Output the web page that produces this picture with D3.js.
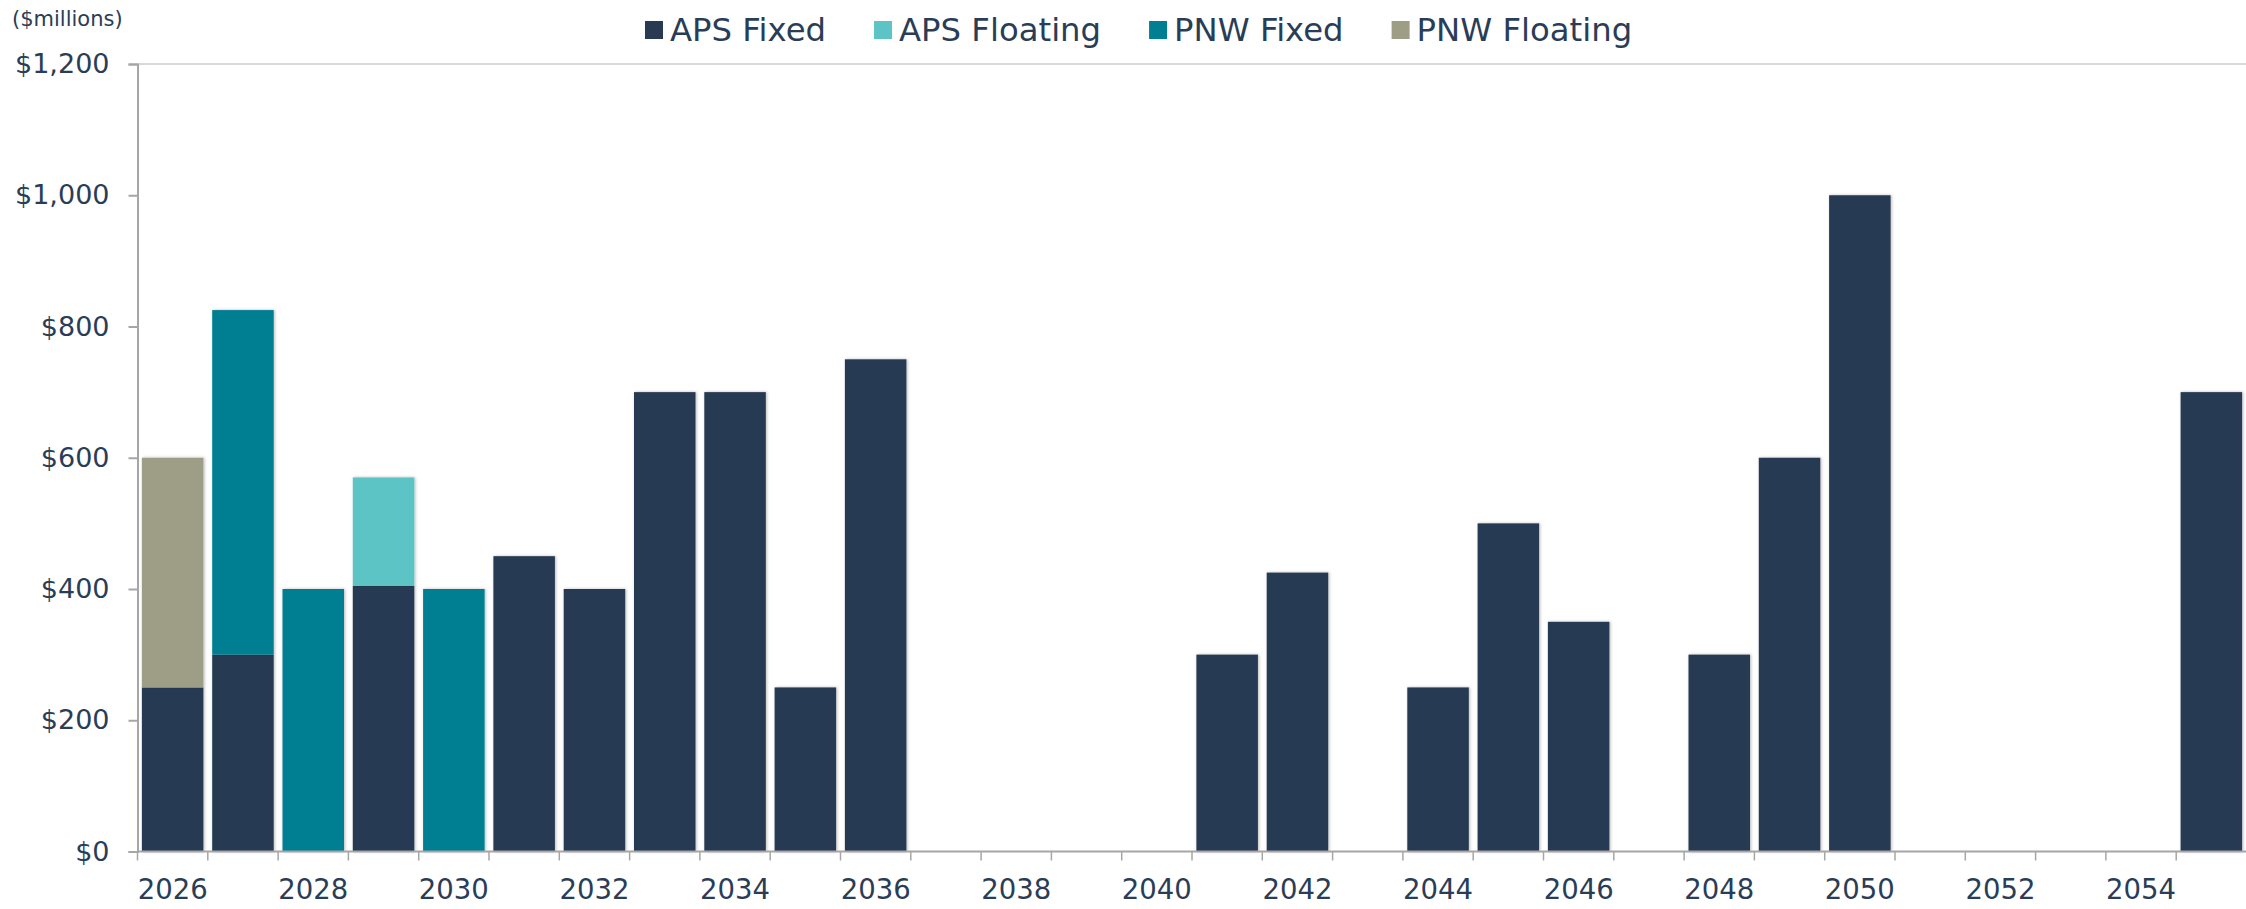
<!DOCTYPE html>
<html>
<head>
<meta charset="utf-8">
<script src="https://cdn.jsdelivr.net/npm/d3@7"></script>
<style>
  html, body { margin: 0; padding: 0; background: #ffffff; }
  svg { display: block; font-family: "DejaVu Sans", Verdana, sans-serif; }
</style>
</head>
<body>
<svg id="chart" width="2246" height="909"></svg>
<script>
// ---- data ----
const years = d3.range(2026, 2056).map(String);
const apsFixed    = [250, 300,   0, 405,   0, 450, 400, 700, 700, 250, 750, 0, 0, 0, 0, 300, 425, 0, 250, 500, 350, 0, 300, 600, 1000, 0, 0, 0, 0, 700];
const apsFloating = [  0,   0,   0, 165,   0,   0,   0,   0,   0,   0,   0, 0, 0, 0, 0,   0,   0, 0,   0,   0,   0, 0,   0,   0,    0, 0, 0, 0, 0,   0];
const pnwFixed    = [  0, 525, 400,   0, 400,   0,   0,   0,   0,   0,   0, 0, 0, 0, 0,   0,   0, 0,   0,   0,   0, 0,   0,   0,    0, 0, 0, 0, 0,   0];
const pnwFloating = [350,   0,   0,   0,   0,   0,   0,   0,   0,   0,   0, 0, 0, 0, 0,   0,   0, 0,   0,   0,   0, 0,   0,   0,    0, 0, 0, 0, 0,   0];
const seriesNames = ["APS Fixed", "APS Floating", "PNW Fixed", "PNW Floating"];
const seriesColors = ["#283b52", "#5cc4c4", "#007f93", "#9e9d85"];
const yTicks = [0, 200, 400, 600, 800, 1000, 1200];
const xLabelYears = years.filter((y, i) => i % 2 === 0);

// ---- table for stack ----
const seriesArrays = [apsFixed, apsFloating, pnwFixed, pnwFloating];
const table = years.map((y, i) => {
  const row = { year: y };
  seriesNames.forEach((s, k) => row[s] = seriesArrays[k][i]);
  return row;
});
const stacked = d3.stack().keys(seriesNames)(table);

const svg = d3.select("#chart");
const textColor = "#2a3d57";

const x = d3.scaleBand().domain(years).range([137.5, 2246.5]).paddingInner(0.125).paddingOuter(0.0625);
const y = d3.scaleLinear().domain([0, 1200]).range([851.5, 64]);

// shadow filter
const defs = svg.append("defs");
const f = defs.append("filter").attr("id", "shadow").attr("x", "-20%").attr("y", "-20%").attr("width", "140%").attr("height", "140%");
f.append("feDropShadow").attr("dx", 1).attr("dy", 0).attr("stdDeviation", 1.8)
  .attr("flood-color", "#000").attr("flood-opacity", 0.28);

// top border line
svg.append("line").attr("x1", 137.5).attr("x2", 2246).attr("y1", y(1200)).attr("y2", y(1200))
  .attr("stroke", "#d9d9d9").attr("stroke-width", 2);

// bars
const layers = svg.append("g").selectAll("g").data(stacked).join("g")
  .attr("fill", (d, i) => seriesColors[i]);
layers.selectAll("rect").data(d => d.filter(v => v[1] - v[0] > 0)).join("rect")
  .attr("x", d => x(d.data.year))
  .attr("width", x.bandwidth())
  .attr("y", d => y(d[1]))
  .attr("height", d => y(d[0]) - y(d[1]))
  .attr("filter", "url(#shadow)");

// y axis
const yAxis = svg.append("g").attr("transform", "translate(137.5,0)")
  .call(d3.axisLeft(y).tickValues(yTicks).tickSize(9).tickPadding(19)
    .tickFormat(d => "$" + d3.format(",")(d)));
yAxis.select(".domain").attr("stroke", "#a6a6a6").attr("stroke-width", 2);
yAxis.selectAll(".tick line").attr("stroke", "#a6a6a6").attr("stroke-width", 2);
yAxis.selectAll(".tick text").attr("fill", textColor).style("font-size", "27px")
  .style("font-family", "'DejaVu Sans', Verdana, sans-serif");

// x axis: ticks at band boundaries
const xAxisG = svg.append("g").attr("transform", "translate(0,851.5)");
xAxisG.append("line").attr("x1", 137.5).attr("x2", 2246).attr("y1", 0).attr("y2", 0)
  .attr("stroke", "#a6a6a6").attr("stroke-width", 2);
const step = x.step();
xAxisG.selectAll("line.tk").data(years).join("line").attr("class", "tk")
  .attr("x1", d => x(d) - (step - x.bandwidth()) / 2)
  .attr("x2", d => x(d) - (step - x.bandwidth()) / 2)
  .attr("y1", 0).attr("y2", 9)
  .attr("stroke", "#a6a6a6").attr("stroke-width", 1.5);
xAxisG.selectAll("text").data(xLabelYears).join("text")
  .attr("x", d => x(d) + x.bandwidth() / 2)
  .attr("y", 47.5)
  .attr("text-anchor", "middle")
  .attr("fill", textColor)
  .style("font-size", "27.5px")
  .text(d => d);

// units label
svg.append("text").attr("x", 12).attr("y", 26).attr("fill", textColor)
  .style("font-size", "21px").text("($millions)");

// legend
const legend = svg.append("g").attr("transform", "translate(645,0)");
let lx = 0;
seriesNames.forEach((name, i) => {
  const g = legend.append("g").attr("transform", `translate(${lx},0)`);
  g.append("rect").attr("x", 0).attr("y", 21).attr("width", 18).attr("height", 18).attr("fill", seriesColors[i]);
  const t = g.append("text").attr("x", 25).attr("y", 40.5).attr("fill", textColor)
    .style("font-size", "32.3px").text(name);
  const w = t.node().getComputedTextLength();
  lx += 25 + w + 48;
});
</script>
</body>
</html>
